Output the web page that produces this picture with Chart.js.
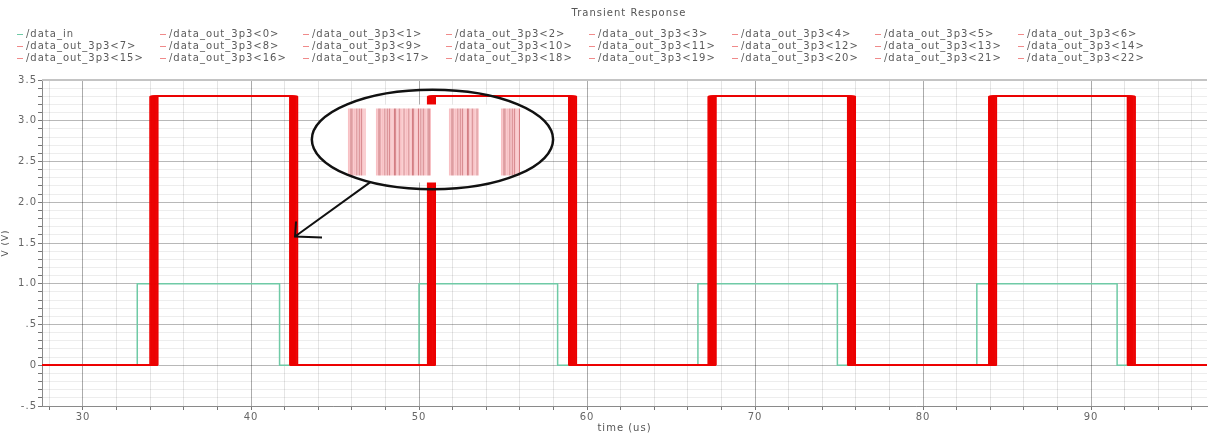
<!DOCTYPE html>
<html>
<head>
<meta charset="utf-8">
<title>Transient Response</title>
<script src="https://cdn.jsdelivr.net/npm/chart.js@4.4.1/dist/chart.umd.min.js"></script>
<style>
  body { margin: 0; background: #fff; }
  #wrap { width: 1209px; height: 434px; }
</style>
</head>
<body>
<div id="wrap"><canvas id="transientChart" width="1209" height="434"></canvas></div>
<script>
// visible time window (us)
var tMin = 27.56, tMax = 96.9;

// /data_in : edge times (us) and level right after each edge (V)
var inTimes  = [tMin, 33.23, 41.7, 50.0, 58.25, 66.6, 74.9, 83.2, 91.55, tMax];
var inLevels = [0, 1.0, 0, 1.0, 0, 1.0, 0, 1.0, 0, 0];

// /data_out_3p3<n> : earliest edge of each burst (us) and level after it (V)
var outTimes  = [tMin, 33.98, 42.3, 50.5, 58.9, 67.2, 75.5, 83.9, 92.15, tMax];
var outLevels = [0, 3.3, 0, 3.3, 0, 3.3, 0, 3.3, 0, 0];

// extra delay of each output bit (us), this is what makes the thick red bars
var bitDelays = [0.00, 0.29, 0.05, 0.42, 0.17, 0.25, 0.09, 0.48, 0.12, 0.36, 0.21, 0.02,
                 0.45, 0.15, 0.32, 0.07, 0.39, 0.23, 0.11, 0.47, 0.19, 0.34, 0.27];

// tick labels
var xLabelTicks = [30, 40, 50, 60, 70, 80, 90];
var yLabelTicks = [-0.5, 0, 0.5, 1.0, 1.5, 2.0, 2.5, 3.0, 3.5];
var yLabelText  = ['-.5', '0', '.5', '1.0', '1.5', '2.0', '2.5', '3.0', '3.5'];

var inColor = '#6fcaa6';
var outColor = 'rgb(236, 0, 0)';
var legendOutColor = '#f08a8a';

function near(a, b) { return Math.abs(a - b) < 1e-6; }

// outputs first in the array so they are painted over /data_in
var datasets = [];
bitDelays.forEach(function (d, i) {
    var last = outTimes.length - 1;
    datasets.push({
        label: '/data_out_3p3<' + i + '>',
        data: outTimes.map(function (t, k) {
            return { x: (k === 0 || k === last) ? t : t + d, y: outLevels[k] };
        }),
        borderColor: outColor,
        legendColor: legendOutColor,
        borderWidth: 1
    });
});
datasets.push({
    label: '/data_in',
    data: inTimes.map(function (t, k) { return { x: t, y: inLevels[k] }; }),
    borderColor: inColor,
    legendColor: inColor,
    borderWidth: 1.5
});
datasets.forEach(function (ds) {
    ds.stepped = true;
    ds.pointRadius = 0;
    ds.fill = false;
});

// wide-spaced text like the simulator's plot window
var spacing = {
    id: 'spacing',
    beforeDraw: function (chart) { chart.ctx.letterSpacing = '1px'; }
};

// legend grid (data_in first) + title drawn on top of the canvas
var legendGrid = {
    id: 'legendGrid',
    afterDraw: function (chart) {
        var ctx = chart.ctx;
        var all = chart.data.datasets;
        var entries = [all[all.length - 1]].concat(all.slice(0, all.length - 1));
        ctx.save();
        ctx.letterSpacing = '1px';
        ctx.fillStyle = '#555';
        ctx.font = '10px "DejaVu Sans"';
        ctx.textAlign = 'center';
        ctx.textBaseline = 'middle';
        ctx.fillText('Transient Response', 629, 13);

        ctx.textAlign = 'left';
        entries.forEach(function (ds, i) {
            var col = i % 8, row = Math.floor(i / 8);
            var x = 17 + col * 143, y = 34 + row * 12;
            ctx.strokeStyle = ds.legendColor;
            ctx.lineWidth = 1;
            ctx.beginPath();
            ctx.moveTo(x, y + 0.5);
            ctx.lineTo(x + 6, y + 0.5);
            ctx.stroke();
            ctx.fillStyle = '#5a5a5a';
            ctx.fillText(ds.label, x + 9, y);
        });

        // heavier frame line along the top of the plot
        var a = chart.chartArea;
        ctx.strokeStyle = '#c4c4c4';
        ctx.lineWidth = 2;
        ctx.beginPath();
        ctx.moveTo(a.left, a.top);
        ctx.lineTo(a.right, a.top);
        ctx.stroke();
        ctx.restore();
    }
};

// zoom-in callout (ellipse with the spread of edges, arrow to a bar)
var callout = { t: 50.8, v: 2.77, rt: 7.18, rv: 0.61, tipT: 42.62, tipV: 1.58 };
var stripeGroups = [[-84, -66], [-56, -1], [17, 46], [69, 88]];

var calloutPlugin = {
    id: 'callout',
    afterDatasetsDraw: function (chart) {
        var ctx = chart.ctx, xs = chart.scales.x, ys = chart.scales.y;
        var cx = xs.getPixelForValue(callout.t), cy = ys.getPixelForValue(callout.v);
        var rx = xs.getPixelForValue(callout.t + callout.rt) - cx;
        var ry = cy - ys.getPixelForValue(callout.v + callout.rv);
        ctx.save();

        // white inset inside the ellipse
        ctx.save();
        ctx.beginPath();
        ctx.ellipse(cx, cy, rx, ry, 0, 0, Math.PI * 2);
        ctx.clip();
        ctx.fillStyle = '#fff';
        ctx.fillRect(cx - rx, cy - 35, rx * 2, 78);
        ctx.restore();

        // stripes of the zoomed edges
        stripeGroups.forEach(function (g) {
            var n = 0;
            for (var x = g[0]; x <= g[1]; x += 1.2) {
                n++;
                var dark = (n % 4 === 0) || (n % 7 === 3);
                ctx.strokeStyle = dark ? 'rgba(180, 30, 40, 0.6)' : 'rgba(240, 110, 120, 0.45)';
                ctx.lineWidth = 1;
                ctx.beginPath();
                ctx.moveTo(cx + x, cy - 31);
                ctx.lineTo(cx + x, cy + 36);
                ctx.stroke();
            }
        });

        ctx.strokeStyle = '#111';
        ctx.lineWidth = 2.5;
        ctx.beginPath();
        ctx.ellipse(cx, cy, rx, ry, 0, 0, Math.PI * 2);
        ctx.stroke();

        // arrow
        var ang = 121 * Math.PI / 180;
        var sx = cx + rx * Math.cos(ang), sy = cy + ry * Math.sin(ang);
        var tx = xs.getPixelForValue(callout.tipT), ty = ys.getPixelForValue(callout.tipV);
        ctx.lineWidth = 2;
        ctx.beginPath();
        ctx.moveTo(sx, sy);
        ctx.lineTo(tx, ty);
        ctx.moveTo(tx + 1, ty - 15);
        ctx.lineTo(tx, ty);
        ctx.lineTo(tx + 27, ty + 1);
        ctx.stroke();
        ctx.restore();
    }
};

var ctx = document.getElementById('transientChart').getContext('2d');
var transientChart = new Chart(ctx, {
    type: 'line',
    data: { datasets: datasets },
    plugins: [spacing, calloutPlugin, legendGrid],
    options: {
        responsive: false,
        animation: false,
        layout: { padding: { top: 80, right: 2, left: 0, bottom: 0 } },
        plugins: {
            legend: { display: false },
            tooltip: { enabled: false }
        },
        scales: {
            x: {
                type: 'linear',
                min: tMin,
                max: tMax,
                afterFit: function (s) { s.height = 28; },
                ticks: {
                    stepSize: 2,
                    includeBounds: false,
                    autoSkip: false,
                    maxRotation: 0,
                    padding: 1,
                    color: '#666',
                    font: { family: 'DejaVu Sans', size: 10 },
                    callback: function (v) {
                        return xLabelTicks.some(function (t) { return near(t, v); }) ? String(v) : '';
                    }
                },
                grid: {
                    color: function (c) {
                        return (c.tick && near(c.tick.value / 10, Math.round(c.tick.value / 10))) ? 'rgba(0,0,0,0.33)' : 'rgba(0,0,0,0.1)';
                    },
                    tickColor: '#777',
                    tickLength: 4
                },
                border: { color: '#8a8a8a' },
                title: {
                    display: true,
                    text: 'time (us)',
                    color: '#555',
                    font: { family: 'DejaVu Sans', size: 10 },
                    padding: 0
                }
            },
            y: {
                min: -0.5,
                max: 3.5,
                afterFit: function (s) { s.width = 42; },
                ticks: {
                    stepSize: 0.1,
                    autoSkip: false,
                    padding: 1,
                    color: '#666',
                    font: { family: 'DejaVu Sans', size: 10 },
                    callback: function (v) {
                        for (var i = 0; i < yLabelTicks.length; i++) {
                            if (near(yLabelTicks[i], v)) return yLabelText[i];
                        }
                        return '';
                    }
                },
                grid: {
                    color: function (c) {
                        if (!c.tick) return 'rgba(0,0,0,0.07)';
                        var h = c.tick.value * 2;
                        return near(h, Math.round(h)) ? 'rgba(0,0,0,0.28)' : 'rgba(0,0,0,0.07)';
                    },
                    tickColor: '#777',
                    tickLength: 4
                },
                border: { color: '#8a8a8a' },
                title: {
                    display: true,
                    text: 'V (V)',
                    color: '#555',
                    font: { family: 'DejaVu Sans', size: 9 },
                    padding: 0
                }
            }
        }
    }
});
</script>
</body>
</html>
